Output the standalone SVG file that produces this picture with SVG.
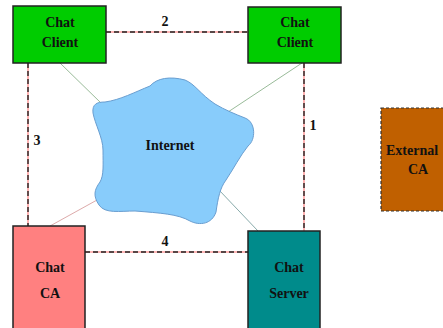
<svg xmlns="http://www.w3.org/2000/svg" width="443" height="328" viewBox="0 0 443 328">
  <style>
    .lbl { font-family: "Liberation Serif", "Times New Roman", serif; font-weight: bold; font-size: 14px; fill: #111; text-anchor: middle; }
    .box { stroke: #222; stroke-width: 1.5; }
    .link-under { stroke: #ffa0a0; stroke-width: 1.6; fill: none; }
    .link { stroke: #222; stroke-width: 1.4; stroke-dasharray: 5 3; fill: none; }
    .thin { stroke-width: 1; fill: none; }
  </style>
  <rect width="443" height="328" fill="#ffffff"/>

  <!-- connectors -->
  <g id="connectors">
    <line class="thin" x1="60" y1="63" x2="101" y2="103" stroke="#99bb99"/>
    <line class="thin" x1="302" y1="63" x2="228" y2="112" stroke="#99bb99"/>
    <line class="thin" x1="97" y1="200" x2="50" y2="226" stroke="#ddaaaa"/>
    <line class="thin" x1="219" y1="190" x2="258" y2="231" stroke="#88aaaa"/>

    <path class="link-under" d="M106 32 H248 M28 63 V226 M304 63 V231 M85 252 H248"/>
    <path class="link" d="M106 32 H248 M28 63 V226 M304 63 V231 M85 252 H248"/>

    <text class="lbl" x="165" y="26">2</text>
    <text class="lbl" x="37" y="145">3</text>
    <text class="lbl" x="313" y="130">1</text>
    <text class="lbl" x="165" y="246">4</text>
  </g>

  <!-- Internet cloud -->
  <g id="internet">
    <path d="M93 113 C92 104 97 102 105 102 C120 100 135 92 150 86 C157 78 170 76 185 80 C195 84 200 94 215 104 C225 110 235 114 245 118 C256 122 256 140 248 146 C240 156 234 168 226 180 C220 188 218 198 216 212 C212 224 200 226 190 221 C178 214 160 213 135 211 C120 211 105 214 99 205 C93 196 94 190 100 182 C104 175 103 165 103 150 C103 138 95 124 93 113 Z" fill="#88ccfb" stroke="#6a9ed0" stroke-width="1"/>
    <text class="lbl" x="170" y="150">Internet</text>
  </g>

  <g id="chat-client-1">
    <rect class="box" x="13" y="6" width="93" height="57" fill="#00cc00"/>
    <text class="lbl" x="60" y="27">Chat</text>
    <text class="lbl" x="60" y="47">Client</text>
  </g>

  <g id="chat-client-2">
    <rect class="box" x="248" y="7" width="93" height="56" fill="#00cc00"/>
    <text class="lbl" x="295" y="27">Chat</text>
    <text class="lbl" x="295" y="47">Client</text>
  </g>

  <g id="chat-ca">
    <rect class="box" x="13" y="226" width="72" height="106" fill="#ff8080"/>
    <text class="lbl" x="50" y="272">Chat</text>
    <text class="lbl" x="50" y="298">CA</text>
  </g>

  <g id="chat-server">
    <rect class="box" x="248" y="231" width="72" height="101" fill="#008b8b"/>
    <text class="lbl" x="289" y="272">Chat</text>
    <text class="lbl" x="289" y="298">Server</text>
  </g>

  <g id="external-ca">
    <rect x="381" y="108" width="70" height="103" fill="#c06000" stroke="#333" stroke-width="1.2" stroke-dasharray="3 2"/>
    <text class="lbl" x="386" y="155" style="text-anchor:start">External</text>
    <text class="lbl" x="418" y="174">CA</text>
  </g>
</svg>
